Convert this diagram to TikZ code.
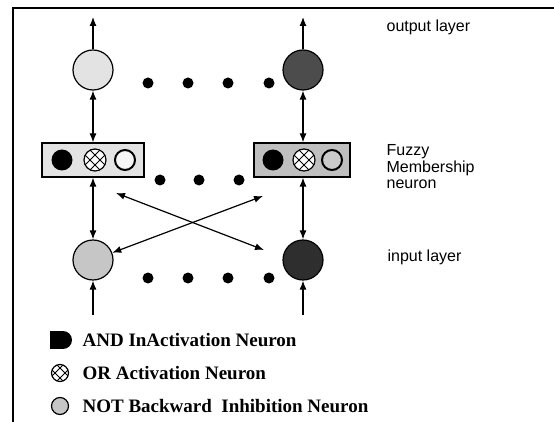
\documentclass[tikz,border=0pt]{standalone}
\usepackage{fontspec}
\setmainfont{Liberation Serif}
\setsansfont{Liberation Sans}
\usepackage{tikz}
\usepackage{xcolor}
\usetikzlibrary{arrows.meta,positioning}

\tikzset{
	neuron/.style={circle,draw,line width=1.2pt,minimum size=40pt,inner sep=0pt},
	fuzbox/.style={rectangle,draw,line width=1.2pt,minimum height=34pt,inner sep=0pt},
	andn/.style={circle,fill=black,minimum size=21pt,inner sep=0pt},
	notn/.style={circle,draw,line width=2pt,minimum size=20pt,inner sep=0pt},
	layerlbl/.style={font=\sffamily\fontsize{16}{16.5}\selectfont,align=left,anchor=west,inner sep=0pt},
	legendlbl/.style={font=\fontsize{19}{20}\selectfont\bfseries,anchor=west,inner sep=0pt},
	orn/.pic={
		\draw[fill=white,line width=1.2pt] (0,0) circle (#1);
		\begin{scope}
			\clip (0,0) circle (#1);
			\foreach \c in {-5,5} {
				\draw[line width=1pt] (-20,-20+\c) -- (20,20+\c);
				\draw[line width=1pt] (-20,20+\c) -- (20,-20+\c);
			}
		\end{scope}
	}
}

\begin{document}
\begin{tikzpicture}[x=1pt,y=-1pt,>={Latex[length=9pt,width=7pt]},line width=1.2pt]
	\useasboundingbox (0,0) rectangle (554,422);
	% frame
	\draw (13,422) -- (13,8) -- (554,8);

	% output layer
	\node[neuron,fill=gray!22] (out1) at (93,70) {};
	\node[neuron,fill=black!70] (outN) at (303,70) {};
	\foreach \x in {148,188,228,269}
		\fill (\x,83) circle (5.5);

	% fuzzy membership layer
	\node[fuzbox,fill=gray!22,minimum width=102pt] (fz1) at (93,160) {};
	\node[fuzbox,fill=gray!50,minimum width=96pt] (fzN) at (302,160) {};
	\node[andn] (and1) at (62,160) {};
	\pic at (95,160) {orn=11};
	\node[notn,fill=gray!8] (not1) at (125,160) {};
	\node[andn] (andN) at (273,160) {};
	\pic at (304,160) {orn=11};
	\node[notn,fill=gray!40] (notN) at (332,160) {};
	\foreach \x in {160,199,239}
		\fill (\x,180) circle (5.5);

	% input layer
	\node[neuron,fill=gray!45] (in1) at (93,260) {};
	\node[neuron,fill=black!82] (inN) at (303,260) {};
	\foreach \x in {148,188,228,269}
		\fill (\x,278) circle (5.5);

	% connections
	\coordinate (top1) at (93,17);
	\coordinate (topN) at (303,17);
	\coordinate (bot1) at (93,315);
	\coordinate (botN) at (303,315);
	\draw[->] (out1) -- (top1);
	\draw[->] (outN) -- (topN);
	\draw[<->] (out1) -- (fz1);
	\draw[<->] (outN) -- (fzN.north -| outN);
	\draw[<->] (fz1) -- (in1);
	\draw[<->] (fzN.south -| inN) -- (inN);
	\draw[->] (bot1) -- (in1);
	\draw[->] (botN) -- (inN);
	\coordinate (xa1) at (116,193);
	\coordinate (xa2) at (264,250);
	\coordinate (xb1) at (263,196);
	\draw[<->] (xa1) -- (xa2);
	\draw[<->] (xb1) -- (in1);

	% labels
	\node[layerlbl] (outlbl) at (386,27) {output layer};
	\node[layerlbl] (fzlbl) at (386,167) {Fuzzy\\Membership\\neuron};
	\node[layerlbl] (inlbl) at (387,257) {input layer};

	% legend
	\fill (50,331) rectangle (63,349);
	\fill (63,340) circle (9);
	\pic at (60,373) {orn=8.5};
	\node[circle,draw,line width=1.2pt,fill=gray!45,minimum size=17pt,inner sep=0pt] (notleg) at (60,406) {};
	\node[legendlbl] (andlbl) at (82,340) {AND InActivation Neuron};
	\node[legendlbl] (orlbl) at (82,373) {OR Activation Neuron};
	\node[legendlbl] (notlbl) at (82,406) {NOT Backward\ \ Inhibition Neuron};
\end{tikzpicture}
\end{document}
